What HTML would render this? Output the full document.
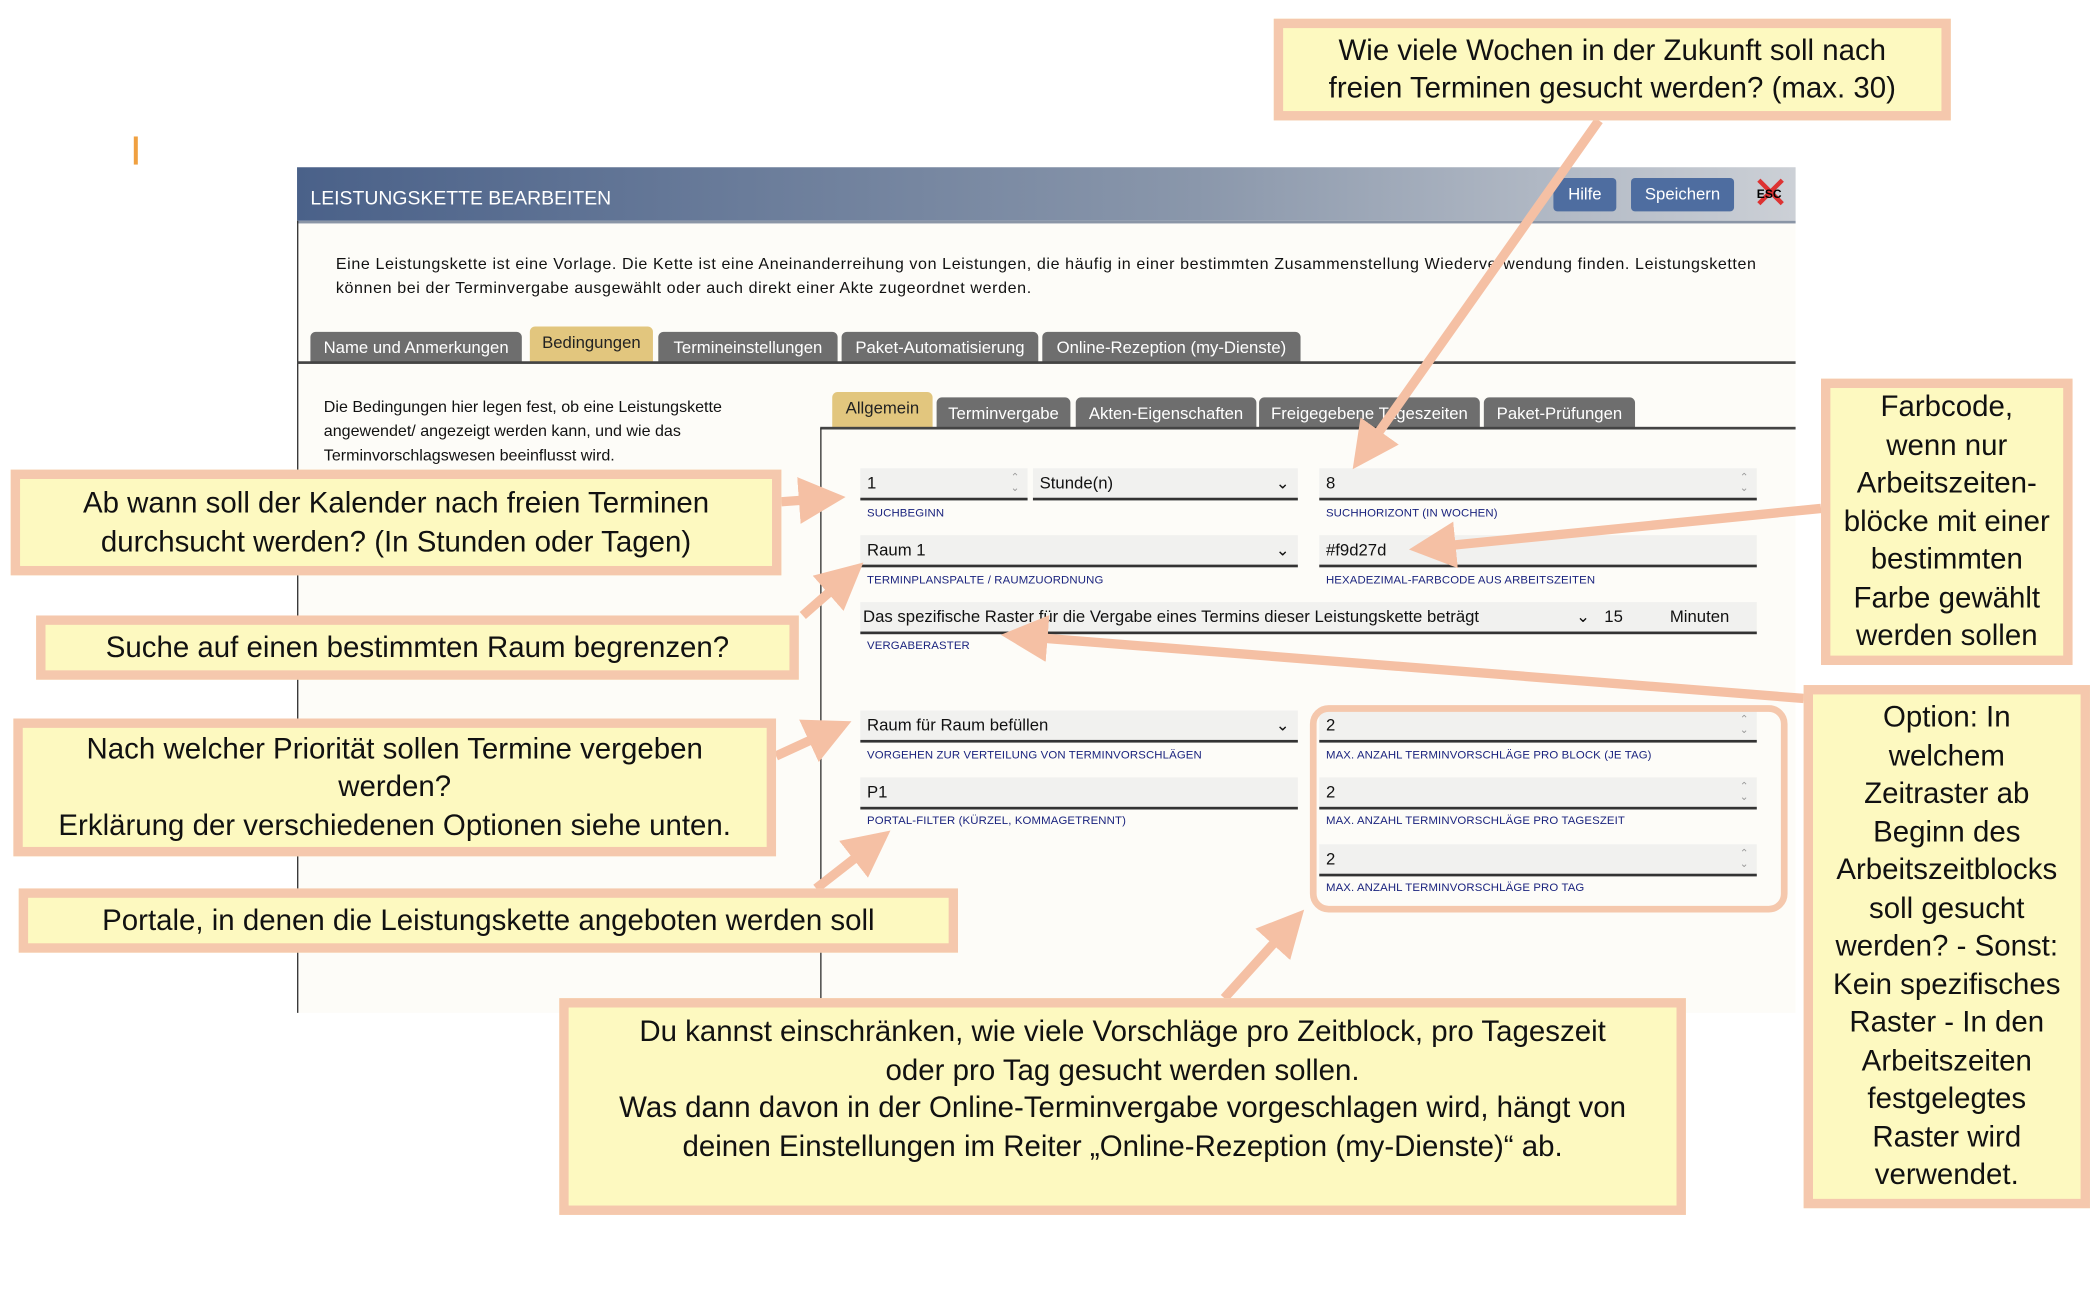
<!DOCTYPE html>
<html><head><meta charset="utf-8"><style>
html,body{margin:0;padding:0;background:#fff;width:2098px;height:1296px;overflow:hidden}
#s{position:absolute;left:0;top:0;width:1568px;height:968px;transform:scale(1.338);transform-origin:0 0;font-family:"Liberation Sans",sans-serif}
.a{position:absolute}
.tab{position:absolute;background:#6e6e6e;color:#fff;font-size:12.5px;text-align:center;border-radius:4px 4px 0 0;line-height:24px;box-sizing:border-box}
.g{background:#e2c67e;color:#222}
.f{position:absolute;background:#f1f1ef;border-bottom:2px solid #333;height:24px;box-sizing:border-box;font-size:12.5px;line-height:22px;padding-left:5px;color:#111}
.l{position:absolute;font-size:8.5px;color:#1a237e;letter-spacing:.1px}
.c{position:absolute;background:#fdf9c0;border:7px solid #f5c8ad;box-sizing:border-box;font-size:22px;line-height:28.5px;text-align:center;color:#111;display:flex;align-items:center;justify-content:center}
.sp{position:absolute;right:6px;top:3px;font-size:8px;color:#999;line-height:8px}
</style></head><body><div id="s">
<div class="a" style="left:100px;top:102px;width:3px;height:21px;background:#f0a040"></div>
<div class="a" style="left:222px;top:125px;width:1120px;height:632px;background:#fdfcf8"></div>
<div class="a" style="left:222px;top:125px;width:1120px;height:40px;background:linear-gradient(90deg,#4a6189,#8a97ab 60%,#ccd0d6);border-bottom:2px solid #8a95a6"></div>
<div class="a" style="left:232px;top:141px;color:#fff;font-size:14.5px">LEISTUNGSKETTE BEARBEITEN</div>
<div class="a" style="left:1161px;top:133px;width:47px;height:25px;background:#4e6da0;border-radius:3px;color:#fff;font-size:12.5px;line-height:25px;text-align:center">Hilfe</div>
<div class="a" style="left:1219px;top:133px;width:77px;height:25px;background:#4e6da0;border-radius:3px;color:#fff;font-size:12.5px;line-height:25px;text-align:center">Speichern</div>
<div class="a" style="left:1309px;top:130px;color:#d33;font-size:34px;line-height:30px">✕</div>
<div class="a" style="left:1313px;top:140px;color:#000;font-size:9px;font-weight:bold">ESC</div>
<div class="a" style="left:222px;top:165px;width:1px;height:592px;background:#333"></div>
<div class="a" style="left:251px;top:188px;font-size:12px;line-height:18px;white-space:nowrap;color:#111;letter-spacing:0.45px">Eine Leistungskette ist eine Vorlage. Die Kette ist eine Aneinanderreihung von Leistungen, die häufig in einer bestimmten Zusammenstellung Wiederverwendung finden. Leistungsketten<br>können bei der Terminvergabe ausgewählt oder auch direkt einer Akte zugeordnet werden.</div>
<div class="tab" style="left:232px;top:248px;width:158px;height:23px">Name und Anmerkungen</div>
<div class="tab g" style="left:396px;top:244px;width:92px;height:27px">Bedingungen</div>
<div class="tab" style="left:492px;top:248px;width:134px;height:23px">Termineinstellungen</div>
<div class="tab" style="left:629px;top:248px;width:147px;height:23px">Paket-Automatisierung</div>
<div class="tab" style="left:779px;top:248px;width:193px;height:23px">Online-Rezeption (my-Dienste)</div>
<div class="a" style="left:222px;top:270px;width:1120px;height:2px;background:#444"></div>
<div class="a" style="left:242px;top:295px;font-size:12px;line-height:18px;width:340px;color:#111">Die Bedingungen hier legen fest, ob eine Leistungskette angewendet/ angezeigt werden kann, und wie das Terminvorschlagswesen beeinflusst wird.</div>
<div class="tab g" style="left:622px;top:293px;width:75px;height:27px">Allgemein</div>
<div class="tab" style="left:700px;top:297px;width:100px;height:23px">Terminvergabe</div>
<div class="tab" style="left:804px;top:297px;width:135px;height:23px">Akten-Eigenschaften</div>
<div class="tab" style="left:941px;top:297px;width:165px;height:23px">Freigegebene Tageszeiten</div>
<div class="tab" style="left:1109px;top:297px;width:113px;height:23px">Paket-Prüfungen</div>
<div class="a" style="left:613px;top:319px;width:729px;height:2px;background:#444"></div>
<div class="a" style="left:613px;top:320px;width:1px;height:437px;background:#333"></div>
<div class="f" style="left:643px;top:350px;width:125px">1<span class="sp">⌃<br>⌄</span></div>
<div class="f" style="left:772px;top:350px;width:198px">Stunde(n)<span class="a" style="right:6px;top:0">⌄</span></div>
<div class="l" style="left:648px;top:378px">SUCHBEGINN</div>
<div class="f" style="left:986px;top:350px;width:327px">8<span class="sp">⌃<br>⌄</span></div>
<div class="l" style="left:991px;top:378px">SUCHHORIZONT (IN WOCHEN)</div>
<div class="f" style="left:643px;top:400px;width:327px">Raum 1<span class="a" style="right:6px;top:0">⌄</span></div>
<div class="l" style="left:648px;top:428px">TERMINPLANSPALTE / RAUMZUORDNUNG</div>
<div class="f" style="left:986px;top:400px;width:327px">#f9d27d</div>
<div class="l" style="left:991px;top:428px">HEXADEZIMAL-FARBCODE AUS ARBEITSZEITEN</div>
<div class="f" style="left:643px;top:450px;width:670px;padding-left:2px">Das spezifische Raster für die Vergabe eines Termins dieser Leistungskette beträgt<span class="a" style="left:535px;top:0">⌄</span><span class="a" style="left:556px;top:0">15</span><span class="a" style="left:605px;top:0">Minuten</span></div>
<div class="l" style="left:648px;top:477px">VERGABERASTER</div>
<div class="f" style="left:643px;top:531px;width:327px">Raum für Raum befüllen<span class="a" style="right:6px;top:0">⌄</span></div>
<div class="l" style="left:648px;top:559px">VORGEHEN ZUR VERTEILUNG VON TERMINVORSCHLÄGEN</div>
<div class="f" style="left:986px;top:531px;width:327px">2<span class="sp">⌃<br>⌄</span></div>
<div class="l" style="left:991px;top:559px">MAX. ANZAHL TERMINVORSCHLÄGE PRO BLOCK (JE TAG)</div>
<div class="f" style="left:643px;top:581px;width:327px">P1</div>
<div class="l" style="left:648px;top:608px">PORTAL-FILTER (KÜRZEL, KOMMAGETRENNT)</div>
<div class="f" style="left:986px;top:581px;width:327px">2<span class="sp">⌃<br>⌄</span></div>
<div class="l" style="left:991px;top:608px">MAX. ANZAHL TERMINVORSCHLÄGE PRO TAGESZEIT</div>
<div class="f" style="left:986px;top:631px;width:327px">2<span class="sp">⌃<br>⌄</span></div>
<div class="l" style="left:991px;top:658px">MAX. ANZAHL TERMINVORSCHLÄGE PRO TAG</div>
<div class="a" style="left:979px;top:527px;width:357px;height:155px;border:5px solid #f5c8ad;border-radius:14px;box-sizing:border-box"></div>
<svg class="a" style="left:0;top:0" width="1568" height="968">
<defs><marker id="m" viewBox="0 0 10 10" refX="8" refY="5" markerWidth="5" markerHeight="5" orient="auto"><path d="M0,0L10,5L0,10z" fill="#f5c0a4"/></marker></defs>
<g stroke="#f5c0a4" stroke-width="7" fill="none" marker-end="url(#m)">
<line x1="1195" y1="90" x2="1015" y2="345"/>
<line x1="584" y1="375" x2="625" y2="372"/>
<line x1="600" y1="460" x2="640" y2="425"/>
<line x1="580" y1="565" x2="630" y2="542"/>
<line x1="610" y1="664" x2="660" y2="625"/>
<line x1="915" y1="746" x2="970" y2="685"/>
<line x1="1361" y1="380" x2="1060" y2="410"/>
<line x1="1348" y1="522" x2="755" y2="475"/>
</g></svg>
<div class="c" style="left:952px;top:14px;width:506px;height:76px">Wie viele Wochen in der Zukunft soll nach<br>freien Terminen gesucht werden? (max. 30)</div>
<div class="c" style="left:8px;top:351px;width:576px;height:79px">Ab wann soll der Kalender nach freien Terminen<br>durchsucht werden? (In Stunden oder Tagen)</div>
<div class="c" style="left:27px;top:460px;width:570px;height:48px">Suche auf einen bestimmten Raum begrenzen?</div>
<div class="c" style="left:10px;top:537px;width:570px;height:103px">Nach welcher Priorität sollen Termine vergeben<br>werden?<br>Erklärung der verschiedenen Optionen siehe unten.</div>
<div class="c" style="left:14px;top:664px;width:702px;height:48px">Portale, in denen die Leistungskette angeboten werden soll</div>
<div class="c" style="left:418px;top:746px;width:842px;height:162px;align-items:flex-start;padding-top:4px">Du kannst einschränken, wie viele Vorschläge pro Zeitblock, pro Tageszeit<br>oder pro Tag gesucht werden sollen.<br>Was dann davon in der Online-Terminvergabe vorgeschlagen wird, hängt von<br>deinen Einstellungen im Reiter „Online-Rezeption (my-Dienste)“ ab.</div>
<div class="c" style="left:1361px;top:283px;width:188px;height:214px">Farbcode,<br>wenn nur<br>Arbeitszeiten-<br>blöcke mit einer<br>bestimmten<br>Farbe gewählt<br>werden sollen</div>
<div class="c" style="left:1348px;top:512px;width:214px;height:391px">Option: In<br>welchem<br>Zeitraster ab<br>Beginn des<br>Arbeitszeitblocks<br>soll gesucht<br>werden? - Sonst:<br>Kein spezifisches<br>Raster - In den<br>Arbeitszeiten<br>festgelegtes<br>Raster wird<br>verwendet.</div>
</div></body></html>
